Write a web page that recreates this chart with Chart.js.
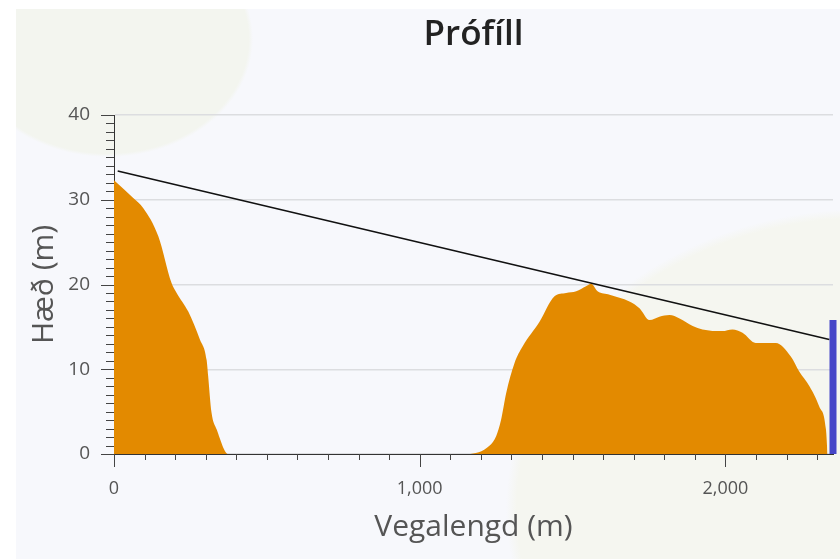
<!DOCTYPE html>
<html>
<head>
<meta charset="utf-8">
<title>Prófíll</title>
<script src="https://cdn.jsdelivr.net/npm/chart.js@4/dist/chart.umd.min.js"></script>
<style>
    html, body { margin: 0; padding: 0; background: #fff; }
    #panel {
        position: absolute; left: 16px; top: 9px; width: 824px; height: 550px;
        background:
            radial-gradient(ellipse 145px 118px at 92px 30px, #f3f5ef 97%, rgba(243,245,239,0) 100%),
            radial-gradient(ellipse 360px 300px at 850px 500px, #f5f6f0 97%, rgba(245,246,240,0) 100%),
            #f7f8fc;
    }
    #wrap { position: absolute; left: 0; top: 0; width: 840px; height: 559px; }
</style>
</head>
<body>
<div id="panel"></div>
<div id="wrap"><canvas id="profile" width="840" height="559"></canvas></div>
<script>
// Terrain profile (distance in m, height in m)
const distance = [0, 63, 96, 145, 188, 205, 243, 281, 303, 308, 319, 336, 374,
    1157, 1229, 1250, 1266, 1283, 1310, 1337, 1392, 1441, 1479, 1512, 1544, 1561,
    1582, 1621, 1686, 1719, 1752, 1784, 1817, 1850, 1893, 1925, 1990, 2023, 2056,
    2099, 2165, 2214, 2242, 2275, 2307, 2329, 2334];
const height = [32.3, 30.2, 29.0, 25.7, 20.2, 19.0, 16.8, 13.5, 11.1, 9.2, 4.9, 2.9, 0,
    0, 1.0, 2.1, 4.0, 7.2, 10.7, 12.7, 15.6, 18.6, 19.0, 19.2, 19.8, 20.1,
    19.2, 18.8, 18.0, 17.2, 15.8, 16.2, 16.4, 16.0, 15.1, 14.7, 14.5, 14.7, 14.3,
    13.1, 13.1, 11.5, 9.7, 8.0, 5.6, 2.9, 0];

// Line of sight between the two end points
const sightDistance = [12, 2340];
const sightHeight = [33.4, 13.5];

// Mast at the far end
const mastDistance = [2352, 2352];
const mastHeight = [0, 15.8];

// Labelled ticks
const xTicks = [0, 1000, 2000];
const yTicks = [0, 10, 20, 30, 40];

const xMax = 2352;
const yMax = 40;
const fontFamily = "'Open Sans', sans-serif";

const toPoints = (xs, ys) => xs.map((x, i) => ({ x: x, y: ys[i] }));
const withCommas = v => String(v).replace(/\B(?=(\d{3})+(?!\d))/g, ',');

// Major and minor tick marks on both axes
const tickMarks = {
    id: 'tickMarks',
    afterDraw(chart) {
        const ctx = chart.ctx;
        const xs = chart.scales.x;
        const ys = chart.scales.y;
        ctx.save();
        ctx.strokeStyle = '#444';
        ctx.lineWidth = 1;
        ctx.beginPath();
        for (let v = 0; v <= xMax; v += 100) {
            const px = Math.round(xs.getPixelForValue(v)) + 0.5;
            const len = v % 1000 === 0 ? 13 : 6;
            ctx.moveTo(px, ys.bottom);
            ctx.lineTo(px, ys.bottom + len);
        }
        for (let v = 0; v <= yMax; v += 1) {
            const py = Math.round(ys.getPixelForValue(v)) + 0.5;
            const len = v % 10 === 0 ? 13 : 8;
            ctx.moveTo(xs.left, py);
            ctx.lineTo(xs.left - len, py);
        }
        ctx.stroke();
        ctx.restore();
    }
};

new Chart('profile', {
    type: 'line',
    data: {
        datasets: [{
            label: 'Línusýn',
            data: toPoints(sightDistance, sightHeight),
            borderColor: '#111',
            borderWidth: 1.6,
            pointRadius: 0,
            fill: false,
            order: 0
        }, {
            label: 'Mastur',
            data: toPoints(mastDistance, mastHeight),
            borderColor: '#4646c8',
            borderWidth: 7,
            borderCapStyle: 'butt',
            pointRadius: 0,
            fill: false,
            clip: false,
            order: 1
        }, {
            label: 'Landhæð',
            data: toPoints(distance, height),
            borderWidth: 0,
            borderColor: 'rgba(0,0,0,0)',
            backgroundColor: '#e38a00',
            pointRadius: 0,
            cubicInterpolationMode: 'monotone',
            fill: 'origin',
            order: 2
        }]
    },
    options: {
        responsive: false,
        animation: false,
        layout: { padding: { left: 0, right: 7, top: 0, bottom: 0 } },
        plugins: {
            legend: { display: false },
            tooltip: { enabled: false },
            title: {
                display: true,
                fullSize: false,
                text: 'Prófíll',
                color: '#222',
                font: { family: fontFamily, size: 35, weight: '600' },
                padding: { top: 14, bottom: 59 }
            }
        },
        scales: {
            x: {
                type: 'linear',
                min: 0,
                max: xMax,
                afterBuildTicks(scale) { scale.ticks = xTicks.map(v => ({ value: v })); },
                afterFit(scale) { scale.height = 105; },
                grid: { display: false, drawTicks: false },
                border: { display: true, color: '#333', width: 1 },
                ticks: {
                    padding: 24,
                    autoSkip: false,
                    maxRotation: 0,
                    minRotation: 0,
                    color: '#555',
                    font: { family: fontFamily, size: 18 },
                    callback: v => withCommas(v)
                },
                title: {
                    display: true,
                    text: 'Vegalengd (m)',
                    color: '#555',
                    font: { family: fontFamily, size: 30 },
                    padding: { top: 0, bottom: 14 }
                }
            },
            y: {
                min: 0,
                max: yMax,
                afterBuildTicks(scale) { scale.ticks = yTicks.map(v => ({ value: v })); },
                afterFit(scale) { scale.width = 114; },
                grid: { color: '#dcdde0', lineWidth: 1.5, drawTicks: false },
                border: { display: true, color: '#333', width: 1 },
                ticks: {
                    padding: 24,
                    color: '#555',
                    font: { family: fontFamily, size: 19 }
                },
                title: {
                    display: true,
                    text: 'Hæð (m)',
                    color: '#555',
                    font: { family: fontFamily, size: 30 },
                    padding: { top: 26, bottom: 0 }
                }
            }
        }
    },
    plugins: [tickMarks]
});
</script>
</body>
</html>
